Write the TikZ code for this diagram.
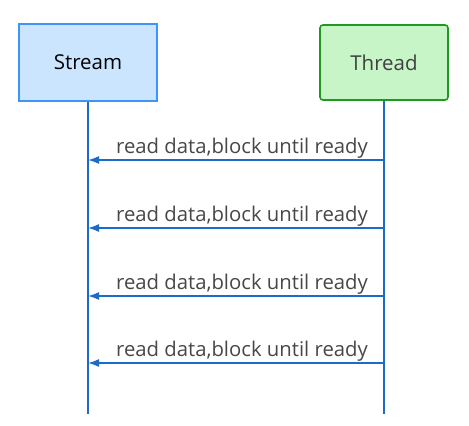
\documentclass[tikz,border=0pt]{standalone}
\usepackage{fontspec}
\setmainfont{Open Sans}
\usetikzlibrary{positioning,arrows.meta}
\definecolor{streamfill}{HTML}{CCE5FF}
\definecolor{streamline}{HTML}{3D95F5}
\definecolor{threadfill}{HTML}{C8F5C8}
\definecolor{threadline}{HTML}{1E9A1E}
\definecolor{lifeblue}{HTML}{1A6CC8}
\tikzset{
  callarrow/.style={-{Latex[length=11pt,width=8pt]}, line width=1.6pt, lifeblue},
  lifeline/.style={line width=1.6pt, lifeblue},
  streambox/.style={draw=streamline, line width=1.6pt, fill=streamfill, minimum width=138pt, minimum height=77pt, align=center, inner sep=0pt},
  threadbox/.style={draw=threadline, line width=1.6pt, rounded corners=3pt, fill=threadfill, minimum width=128pt, minimum height=75pt, align=center, inner sep=0pt},
  calllabel/.style={font=\fontsize{20.3}{24}\selectfont, text=black!72, inner sep=1pt, anchor=south}
}

\begin{document}
\begin{tikzpicture}[x=1pt, y=-1pt, every node/.style={font=\fontsize{20.5}{24}\selectfont}]
      \useasboundingbox (0,0) rectangle (469,426);
      \node[streambox] (stream) at (88,62.5) {Stream};
      \node[threadbox, text=black!75] (thread) at (384,62.5) {Thread};
      \coordinate (streamend) at (88,414);
      \coordinate (threadend) at (384,414);
      \draw[lifeline] (stream) -- (streamend);
      \draw[lifeline] (thread) -- (threadend);
      \foreach \i/\y in {1/160,2/228,3/296,4/363} {
        \coordinate (t\i) at (384,\y);
        \coordinate (s\i) at (88,\y);
        \draw[callarrow] (t\i) -- node[calllabel, xshift=6pt] {read data,block until ready} (s\i);
      }
    \end{tikzpicture}
\end{document}
